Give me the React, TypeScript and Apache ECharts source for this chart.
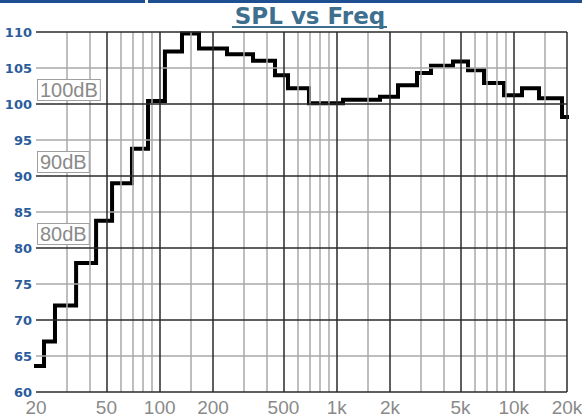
import React, { useEffect, useRef } from 'react';
import * as echarts from 'echarts';

// Step band edges (Hz) and SPL level of each band (dB)
const stepEdges = [20, 22.2, 25.6, 33.7, 43.7, 53.8, 69.7, 85.9, 107, 133.6, 166.7, 240, 336.6, 448, 530.6, 697, 1085, 1756, 2219, 2842, 3408, 4538, 5518, 6796, 8812, 11138, 13896, 18744, 20000];
const stepLevels = [63.6, 67.0, 72.0, 77.9, 83.8, 89.0, 93.8, 100.4, 107.3, 109.8, 107.7, 106.9, 106.0, 104.0, 102.2, 100.1, 100.6, 101.0, 102.6, 104.3, 105.3, 105.9, 104.7, 102.9, 101.2, 102.2, 100.8, 98.2];

const freqLabels = [20, 50, 100, 200, 500, 1000, 2000, 5000, 10000, 20000];
const majorFreqs = [50, 100, 200, 500, 1000, 2000, 5000, 10000, 20000];
const minorFreqs = [30, 40, 60, 70, 80, 90, 150, 300, 400, 600, 700, 800, 900, 1500, 3000, 4000, 6000, 7000, 8000, 9000, 15000];
const majorLevels = [60, 70, 80, 90, 100, 110];
const minorLevels = [65, 75, 85, 95, 105];
const dbMarks = [100, 90, 80];

const fmtFreq = (f: number) => (f >= 1000 ? f / 1000 + 'k' : String(f));

export default function App() {
  const ref = useRef<HTMLDivElement>(null);
  useEffect(() => {
    if (!ref.current) return;
    const chart = echarts.init(ref.current, undefined, { renderer: 'svg' });

    const lineData: [number, number][] = stepLevels.map((v, i) => [stepEdges[i], v]);
    lineData.push([stepEdges[stepEdges.length - 1], stepLevels[stepLevels.length - 1]]);

    const majorStyle = { color: '#2a2a2a', width: 1.5, type: 'solid' as const };
    const minorStyle = { color: '#a8a8a8', width: 1.5, type: 'solid' as const };
    const hiddenLine = { color: 'rgba(0,0,0,0)', width: 1, type: 'solid' as const };

    const gridData: any[] = [
      ...minorFreqs.map((f) => ({ xAxis: f, lineStyle: minorStyle })),
      ...minorLevels.map((v) => ({ yAxis: v, lineStyle: minorStyle })),
      ...majorFreqs.map((f) => ({ xAxis: f, lineStyle: majorStyle })),
      ...majorLevels.map((v) => ({ yAxis: v, lineStyle: majorStyle })),
    ];

    const xLabelData = freqLabels.map((f) => ({
      xAxis: f,
      lineStyle: hiddenLine,
      label: {
        show: true,
        position: 'start',
        distance: 6,
        formatter: fmtFreq(f),
        color: '#8a8a8a',
        fontSize: 19,
        fontFamily: '"Liberation Sans", Arial, sans-serif',
      },
    }));

    const dbData = dbMarks.map((v) => ({
      yAxis: v,
      lineStyle: hiddenLine,
      label: {
        show: true,
        position: 'insideStartTop',
        distance: [2, 4],
        formatter: v + 'dB',
        color: '#8a8a8a',
        fontSize: 20,
        lineHeight: 20,
        fontFamily: '"Liberation Sans", Arial, sans-serif',
        backgroundColor: '#ffffff',
        borderColor: '#a0a0a0',
        borderWidth: 1,
        padding: [0, 2, 0, 2],
      },
    }));

    chart.setOption({
      animation: false,
      backgroundColor: '#ffffff',
      grid: { left: 36, right: 15, top: 32, bottom: 26 },
      xAxis: {
        type: 'log',
        logBase: 10,
        min: 20,
        max: 20000,
        axisLabel: { show: false },
        axisLine: { show: false },
        axisTick: { show: false },
        splitLine: { show: false },
        minorSplitLine: { show: false },
      },
      yAxis: {
        type: 'value',
        min: 60,
        max: 110,
        interval: 5,
        axisLabel: {
          color: '#2c5c9c',
          fontWeight: 'bold',
          fontSize: 13,
          fontFamily: '"DejaVu Sans", Verdana, sans-serif',
          margin: 4,
        },
        axisLine: { show: false },
        axisTick: { show: false },
        splitLine: { show: false },
      },
      graphic: [
        { type: 'rect', shape: { x: 0, y: 0, width: 145, height: 3 }, style: { fill: '#1e4f91' } },
        { type: 'rect', shape: { x: 148, y: 0, width: 434, height: 3 }, style: { fill: '#1e4f91' } },
        {
          type: 'text',
          x: 310,
          y: 4,
          style: {
            text: 'SPL vs Freq',
            font: 'bold 23px "DejaVu Sans", Verdana, sans-serif',
            fill: '#3e6f8f',
            textAlign: 'center',
            textVerticalAlign: 'top',
          },
        },
        { type: 'rect', shape: { x: 232, y: 26, width: 155, height: 2 }, style: { fill: '#3e6f8f' } },
      ],
      series: [
        {
          type: 'line',
          data: [],
          z: 1,
          silent: true,
          markLine: { silent: true, symbol: 'none', animation: false, label: { show: false }, data: gridData },
        },
        {
          type: 'line',
          data: [],
          z: 2,
          silent: true,
          markLine: { silent: true, symbol: 'none', animation: false, data: xLabelData },
        },
        {
          type: 'line',
          data: [],
          z: 2,
          silent: true,
          markLine: { silent: true, symbol: 'none', animation: false, data: dbData },
        },
        {
          type: 'line',
          z: 3,
          step: 'end',
          showSymbol: false,
          symbol: 'none',
          data: lineData,
          lineStyle: { color: '#000000', width: 4, cap: 'square', join: 'miter' },
        },
      ],
    });
    return () => chart.dispose();
  }, []);
  return (
    <div
      ref={ref}
      style={{ position: 'absolute', left: 0, top: 0, width: 582, height: 418, background: '#fff' }}
    />
  );
}
